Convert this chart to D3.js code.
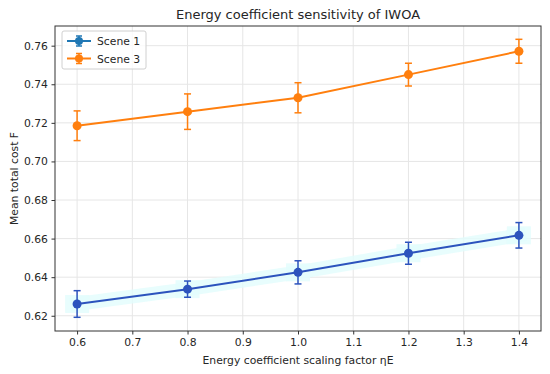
<!DOCTYPE html>
<head>
  <meta charset="utf-8">
  <style>
    body { margin: 0; background: #fff; }
    text { font-family: "DejaVu Sans", sans-serif; fill: #262626; }
  </style>
</head>
<body>
<script src="https://cdnjs.cloudflare.com/ajax/libs/d3/7.8.5/d3.min.js"></script>
<script>

var scales = [0.6, 0.8, 1.0, 1.2, 1.4];
var scene1 = [0.6261, 0.6338, 0.6425, 0.6524, 0.6617];
var scene1Err = [0.0069, 0.0042, 0.0060, 0.0057, 0.0066];
var scene3 = [0.7185, 0.7258, 0.7330, 0.7450, 0.7571];
var scene3Err = [0.0077, 0.0092, 0.0078, 0.0059, 0.0062];
var xTicks = [0.6, 0.7, 0.8, 0.9, 1.0, 1.1, 1.2, 1.3, 1.4];
var yTicks = [0.62, 0.64, 0.66, 0.68, 0.70, 0.72, 0.74, 0.76];

var margin = { top: 26, right: 9, bottom: 43, left: 55 };
var width = 550 - margin.left - margin.right;
var height = 374 - margin.top - margin.bottom;
var fs = "10.8px";

var svg = d3.select("body").append("svg")
    .attr("width", 550)
    .attr("height", 374);

var g = svg.append("g")
    .attr("transform", "translate(" + margin.left + "," + margin.top + ")");

var x = d3.scaleLinear().domain([0.56, 1.44]).range([0, width]);
var y = d3.scaleLinear().domain([0.6121, 0.7702]).range([height, 0]);

// grid
g.append("g").selectAll("line").data(xTicks).enter().append("line")
    .attr("x1", function(d) { return x(d); })
    .attr("x2", function(d) { return x(d); })
    .attr("y1", 0).attr("y2", height)
    .attr("stroke", "#e6e6e6").attr("stroke-width", 1);
g.append("g").selectAll("line").data(yTicks).enter().append("line")
    .attr("y1", function(d) { return y(d); })
    .attr("y2", function(d) { return y(d); })
    .attr("x1", 0).attr("x2", width)
    .attr("stroke", "#e6e6e6").attr("stroke-width", 1);

var line = d3.line()
    .x(function(d) { return x(d[0]); })
    .y(function(d) { return y(d[1]); });

function drawSeries(vals, errs, color, band) {
  var pts = scales.map(function(s, i) { return [s, vals[i], errs[i]]; });
  if (band) {
    // faint cyan halo behind the line
    g.append("path").datum(pts)
        .attr("d", line)
        .attr("fill", "none")
        .attr("stroke", "#e2fcfd")
        .attr("stroke-width", 14)
        .attr("stroke-linecap", "square")
        .attr("opacity", 0.8);
    g.append("g").selectAll("rect").data(pts).enter().append("rect")
        .attr("x", function(d) { return x(d[0]) - 12; })
        .attr("y", function(d) { return y(d[1]) - 9; })
        .attr("width", 24).attr("height", 18)
        .attr("fill", "#e2fcfd").attr("opacity", 0.8);
  }
  var eb = g.append("g").selectAll("g").data(pts).enter().append("g")
      .attr("stroke", color).attr("stroke-width", 1.5);
  eb.append("line")
      .attr("x1", function(d) { return x(d[0]); })
      .attr("x2", function(d) { return x(d[0]); })
      .attr("y1", function(d) { return y(d[1] - d[2]); })
      .attr("y2", function(d) { return y(d[1] + d[2]); });
  eb.append("line")
      .attr("x1", function(d) { return x(d[0]) - 3.5; })
      .attr("x2", function(d) { return x(d[0]) + 3.5; })
      .attr("y1", function(d) { return y(d[1] - d[2]); })
      .attr("y2", function(d) { return y(d[1] - d[2]); });
  eb.append("line")
      .attr("x1", function(d) { return x(d[0]) - 3.5; })
      .attr("x2", function(d) { return x(d[0]) + 3.5; })
      .attr("y1", function(d) { return y(d[1] + d[2]); })
      .attr("y2", function(d) { return y(d[1] + d[2]); });
  g.append("path").datum(pts)
      .attr("d", line)
      .attr("fill", "none")
      .attr("stroke", color)
      .attr("stroke-width", 2);
  g.append("g").selectAll("circle").data(pts).enter().append("circle")
      .attr("cx", function(d) { return x(d[0]); })
      .attr("cy", function(d) { return y(d[1]); })
      .attr("r", 4.5)
      .attr("fill", color);
}

drawSeries(scene1, scene1Err, "#2c53bd", true);
drawSeries(scene3, scene3Err, "#ff7f0e", false);

// axes
var xAxis = g.append("g")
    .attr("transform", "translate(0," + height + ")")
    .call(d3.axisBottom(x).tickValues(xTicks).tickSize(3.5).tickPadding(3.5).tickFormat(d3.format(".1f")));
var yAxis = g.append("g")
    .call(d3.axisLeft(y).tickValues(yTicks).tickSize(3.5).tickPadding(3.5).tickFormat(d3.format(".2f")));
[xAxis, yAxis].forEach(function(a) {
  a.select(".domain").remove();
  a.selectAll(".tick line").attr("stroke", "#333");
  a.selectAll("text").style("font-size", fs).attr("fill", "#262626")
    .style("font-family", "DejaVu Sans, sans-serif");
});

g.append("rect")
    .attr("width", width).attr("height", height)
    .attr("fill", "none").attr("stroke", "#333").attr("stroke-width", 1);

svg.append("text")
    .attr("x", margin.left + width / 2).attr("y", 19)
    .attr("text-anchor", "middle")
    .style("font-size", "13px")
    .text("Energy coefficient sensitivity of IWOA");

svg.append("text")
    .attr("x", margin.left + width / 2).attr("y", 364)
    .attr("text-anchor", "middle")
    .style("font-size", fs)
    .text("Energy coefficient scaling factor ηE");

svg.append("text")
    .attr("transform", "translate(18," + (margin.top + height / 2) + ") rotate(-90)")
    .attr("text-anchor", "middle")
    .style("font-size", fs)
    .text("Mean total cost F");

// legend
var legendNames = ["Scene 1", "Scene 3"];
var legendColors = ["#1f77b4", "#ff7f0e"];
var leg = g.append("g").attr("transform", "translate(7,5)");
leg.append("rect")
    .attr("width", 84).attr("height", 38).attr("rx", 2)
    .attr("fill", "#fff").attr("fill-opacity", 0.8)
    .attr("stroke", "#d0d0d0");
var items = leg.selectAll("g.item").data(legendNames).enter().append("g")
    .attr("class", "item")
    .attr("transform", function(d, i) { return "translate(0," + (10 + i * 17.5) + ")"; });
items.append("line")
    .attr("x1", 5).attr("x2", 29).attr("y1", 0).attr("y2", 0)
    .attr("stroke", function(d, i) { return legendColors[i]; }).attr("stroke-width", 2);
items.append("line")
    .attr("x1", 17).attr("x2", 17).attr("y1", -5).attr("y2", 5)
    .attr("stroke", function(d, i) { return legendColors[i]; }).attr("stroke-width", 1.5);
items.selectAll("line.cap").data(function(d, i) { return [[-5, i], [5, i]]; }).enter().append("line")
    .attr("class", "cap")
    .attr("x1", 14).attr("x2", 20)
    .attr("y1", function(d) { return d[0]; }).attr("y2", function(d) { return d[0]; })
    .attr("stroke", function(d) { return legendColors[d[1]]; }).attr("stroke-width", 1.5);
items.append("circle")
    .attr("cx", 17).attr("cy", 0).attr("r", 4)
    .attr("fill", function(d, i) { return legendColors[i]; });
items.append("text")
    .attr("x", 35).attr("y", 4)
    .style("font-size", fs)
    .text(function(d) { return d; });

</script>
</body>
